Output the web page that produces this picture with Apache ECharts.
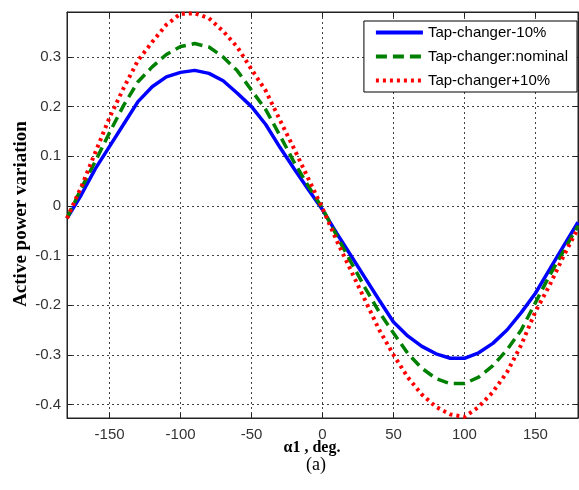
<!DOCTYPE html>
<html>
<head>
<meta charset="utf-8">
<script src="https://cdn.jsdelivr.net/npm/echarts@6/dist/echarts.min.js"></script>
<style>html,body{margin:0;padding:0;background:#fff;}#c{width:579px;height:490px;}</style>
</head>
<body>
<div id="c"></div>
<script>
var angles = [-180,-170,-160,-150,-140,-130,-120,-110,-100,-90,-80,-70,-60,-50,-40,-30,-20,-10,0,10,20,30,40,50,60,70,80,90,100,110,120,130,140,150,160,170,180];
var tapMinus = [-0.025,0.022,0.075,0.12,0.165,0.21,0.24,0.26,0.269,0.273,0.267,0.252,0.227,0.2,0.164,0.118,0.075,0.033,-0.008,-0.055,-0.1,-0.145,-0.19,-0.234,-0.262,-0.283,-0.298,-0.307,-0.307,-0.296,-0.277,-0.25,-0.215,-0.176,-0.128,-0.08,-0.033];
var tapNominal = [-0.025,0.035,0.09,0.148,0.203,0.25,0.28,0.305,0.321,0.327,0.32,0.3,0.272,0.233,0.194,0.142,0.088,0.04,-0.005,-0.06,-0.113,-0.165,-0.214,-0.256,-0.297,-0.327,-0.348,-0.358,-0.358,-0.345,-0.322,-0.29,-0.25,-0.195,-0.14,-0.09,-0.04];
var tapPlus = [-0.025,0.038,0.108,0.178,0.238,0.293,0.33,0.365,0.387,0.388,0.378,0.352,0.32,0.275,0.232,0.173,0.115,0.055,-0.005,-0.07,-0.13,-0.19,-0.25,-0.3,-0.345,-0.38,-0.405,-0.42,-0.425,-0.405,-0.375,-0.335,-0.28,-0.213,-0.16,-0.1,-0.045];
var xTicks = [-150,-100,-50,0,50,100,150];
var yTicks = [-0.4,-0.3,-0.2,-0.1,0,0.1,0.2,0.3];
var seriesNames = ['Tap-changer-10%','Tap-changer:nominal','Tap-changer+10%'];

function pairs(ys){ return angles.map(function(a,i){ return [a, ys[i]]; }); }

var chart = echarts.init(document.getElementById('c'), null, {renderer:'canvas'});
var labelFont = {fontFamily:'Liberation Sans, Arial, sans-serif', fontSize:15, color:'#333'};
var splitStyle = {show:true, lineStyle:{color:'#444', width:1, type:[2,3]}};
chart.setOption({
  animation:false,
  backgroundColor:'#fff',
  grid:{left:67, right:1, top:12, bottom:72, show:true, borderColor:'#222', borderWidth:1, containLabel:false},
  legend:{
    orient:'vertical', right:2, top:21,
    backgroundColor:'#fff', borderColor:'#000', borderWidth:1,
    padding:[4,9,4,10], itemWidth:47, itemHeight:14, itemGap:9,
    itemStyle:{opacity:0},
    lineStyle:{width:4},
    textStyle:{fontFamily:'Liberation Sans, Arial, sans-serif', fontSize:15, color:'#000'},
    data:seriesNames
  },
  xAxis:[{
    type:'value', min:-180, max:180, position:'bottom',
    axisLine:{show:true, onZero:false, lineStyle:{color:'#222'}},
    axisTick:{show:true, inside:true, length:5, customValues:xTicks, lineStyle:{color:'#222'}},
    axisLabel:Object.assign({customValues:xTicks, margin:9}, labelFont),
    splitLine:splitStyle
  },{
    type:'value', min:-180, max:180, position:'top',
    axisLine:{show:true, onZero:false, lineStyle:{color:'#222'}},
    axisTick:{show:true, inside:true, length:5, customValues:xTicks, lineStyle:{color:'#222'}},
    axisLabel:{show:false}, splitLine:{show:false}
  }],
  yAxis:[{
    type:'value', min:-0.4273, max:0.3906, position:'left',
    axisLine:{show:true, onZero:false, lineStyle:{color:'#222'}},
    axisTick:{show:true, inside:true, length:5, customValues:yTicks, lineStyle:{color:'#222'}},
    axisLabel:Object.assign({customValues:yTicks, margin:6, formatter:function(v){return String(Math.round(v*10)/10);}}, labelFont),
    splitLine:splitStyle
  },{
    type:'value', min:-0.4273, max:0.3906, position:'right',
    axisLine:{show:true, onZero:false, lineStyle:{color:'#222'}},
    axisTick:{show:true, inside:true, length:5, customValues:yTicks, lineStyle:{color:'#222'}},
    axisLabel:{show:false}, splitLine:{show:false}
  }],
  graphic:[
    {type:'text', x:21, y:214, rotation:Math.PI/2, style:{text:'Active power variation', font:'bold 19px "Liberation Serif", "Times New Roman", serif', fill:'#000', textAlign:'center', textVerticalAlign:'middle'}},
    {type:'text', x:312, y:448, style:{text:'\u03b11 , deg.', font:'bold 16px "Liberation Serif", "Times New Roman", serif', fill:'#000', textAlign:'center', textVerticalAlign:'middle'}},
    {type:'text', x:316, y:465, style:{text:'(a)', font:'18px "Liberation Serif", "Times New Roman", serif', fill:'#000', textAlign:'center', textVerticalAlign:'middle'}}
  ],
  series:[
    {name:seriesNames[0], type:'line', data:pairs(tapMinus), showSymbol:false, symbol:'none', smooth:false,
     lineStyle:{color:'#0000ff', width:3.5, type:'solid'}, itemStyle:{color:'#0000ff'}, z:3},
    {name:seriesNames[1], type:'line', data:pairs(tapNominal), showSymbol:false, symbol:'none', smooth:false,
     lineStyle:{color:'#008000', width:3.5, type:[11,6]}, itemStyle:{color:'#008000'}, z:4},
    {name:seriesNames[2], type:'line', data:pairs(tapPlus), showSymbol:false, symbol:'none', smooth:false,
     lineStyle:{color:'#ff0000', width:4, type:[3,4]}, itemStyle:{color:'#ff0000'}, z:5}
  ]
});
</script>
</body>
</html>
